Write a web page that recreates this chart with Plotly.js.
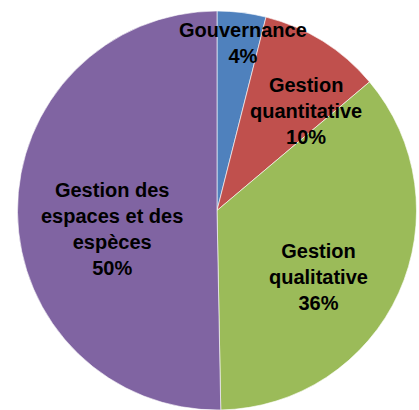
<!DOCTYPE html>
<html><head><meta charset="utf-8">
<script src="https://cdn.plot.ly/plotly-3.0.1.min.js"></script>
<style>html,body{margin:0;padding:0;background:#fff;}#chart{width:419px;height:410px;}</style>
</head><body><div id="chart"></div>
<script>
const labels = ["Gouvernance", "Gestion quantitative", "Gestion qualitative", "Gestion des espaces et des espèces"];
const labelLines = ["Gouvernance", "Gestion<br>quantitative", "Gestion<br>qualitative", "Gestion des<br>espaces et des<br>espèces"];
const values = [3.95, 9.9, 35.85, 50.3];
const colors = ["#4F81BD", "#C0504D", "#9BBB59", "#8064A2"];
// label anchor positions (paper fractions)
const labelX = [243/419, 306/419, 318/419, 112/419];
const labelY = [1-43/410, 1-111/410, 1-277/410, 1-229/410];

const total = values.reduce((a,b)=>a+b,0);
const annotations = labels.map((l,i)=>({
  xref:'paper', yref:'paper', x:labelX[i], y:labelY[i],
  xanchor:'center', yanchor:'middle', showarrow:false,
  text: labelLines[i] + '<br>' + Math.round(values[i]/total*100) + '%',
  font:{family:'Liberation Sans, Arial, sans-serif', size:20, color:'#000', weight:'bold'}
}));

Plotly.newPlot('chart', [{
  type:'pie', labels:labels, values:values, sort:false, direction:'clockwise', rotation:0,
  marker:{colors:colors, line:{color:'rgba(255,255,255,0.6)', width:1}},
  textinfo:'none', hoverinfo:'none',
  domain:{x:[15/419, 1], y:[0, 1-11/410]}
}], {
  width:419, height:410, margin:{l:0,r:0,t:0,b:0},
  showlegend:false, paper_bgcolor:'#fff',
  annotations:annotations
}, {displayModeBar:false, staticPlot:true});
</script></body></html>
